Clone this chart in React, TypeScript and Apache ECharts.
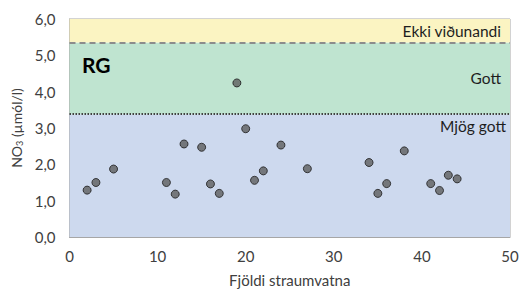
import React, { useEffect, useRef } from "react";
import * as echarts from "echarts";

const xValues = [2, 3, 5, 11, 12, 13, 15, 16, 17, 19, 20, 21, 22, 24, 27, 34, 35, 36, 38, 41, 42, 43, 44];
const yValues = [1.29, 1.5, 1.87, 1.5, 1.18, 2.56, 2.47, 1.46, 1.2, 4.24, 2.98, 1.56, 1.82, 2.53, 1.88, 2.05, 1.2, 1.47, 2.37, 1.47, 1.28, 1.7, 1.6];
const bandNames = ["Mjög gott", "Gott", "Ekki viðunandi"];
const bandLimits = [0, 3.38, 5.35, 6];
const bandColors = ["#CDD9EE", "#BFE4D0", "#FBF4C2"];

const FONT = "Lato, 'Open Sans', sans-serif";

export default function App() {
  const ref = useRef<HTMLDivElement>(null);
  useEffect(() => {
    document.body.style.margin = "0";
    const chart = echarts.init(ref.current!, null, { renderer: "svg" });
    const data = xValues.map((x, i) => [x, yValues[i]]);
    const labelPos = ["insideTopRight", "insideRight", "insideRight"];
    chart.setOption({
      animation: false,
      textStyle: { fontFamily: FONT },
      grid: {
        left: 69.5,
        right: 15,
        top: 19,
        bottom: 56,
        outerBoundsMode: "none",
        containLabel: false,
        show: true,
        borderColor: "#A6A6A6",
        borderWidth: 1,
        backgroundColor: "transparent",
      },
      xAxis: {
        type: "value",
        min: 0,
        max: 50,
        interval: 10,
        axisLine: { show: true, lineStyle: { color: "#A6A6A6" } },
        axisTick: { show: false },
        splitLine: { show: false },
        axisLabel: { color: "#404040", fontSize: 15, margin: 11, fontFamily: FONT },
        name: "Fjöldi straumvatna",
        nameLocation: "middle",
        nameGap: 35,
        nameTextStyle: { color: "#404040", fontSize: 15, fontFamily: FONT },
      },
      yAxis: {
        type: "value",
        min: 0,
        max: 6,
        interval: 1,
        axisLine: { show: true, lineStyle: { color: "#A6A6A6" } },
        axisTick: { show: false },
        splitLine: { show: false },
        axisLabel: {
          color: "#404040",
          fontSize: 15,
          margin: 14,
          fontFamily: FONT,
          formatter: (v: number) => v.toFixed(1).replace(".", ","),
        },
        name: "NO{sub|3} (µmól/l)",
        nameLocation: "middle",
        nameGap: 43,
        nameTextStyle: {
          color: "#404040",
          fontSize: 14,
          fontFamily: FONT,
          rich: { sub: { fontSize: 9, verticalAlign: "bottom", padding: [6, 0, 0, 0], color: "#404040" } },
        },
      },
      graphic: [
        {
          type: "text",
          left: 82,
          top: 54,
          z: 100,
          style: { text: "RG", fontSize: 21, fontWeight: "bold", fontFamily: FONT, fill: "#000" },
        },
      ],
      series: [
        {
          type: "scatter",
          data,
          symbol: "circle",
          symbolSize: 8,
          itemStyle: { color: "#5E5E5E", borderColor: "#1A1A1A", borderWidth: 1 },
          z: 5,
          markArea: {
            silent: true,
            data: bandNames.map((name, i) => [
              {
                yAxis: bandLimits[i],
                name,
                itemStyle: { color: bandColors[i] },
                label: {
                  show: true,
                  position: labelPos[i],
                  color: "#1E1E1E",
                  fontSize: 15.5,
                  fontFamily: FONT,
                  distance: i === 0 ? 4 : 9,
                },
              },
              { yAxis: bandLimits[i + 1] },
            ]),
          },
          markLine: {
            silent: true,
            symbol: "none",
            label: { show: false },
            data: [
              { yAxis: bandLimits[2], lineStyle: { type: [6, 4], color: "#8C8C8C", width: 2 } },
              { yAxis: bandLimits[1], lineStyle: { type: [1.5, 1.5], color: "#404040", width: 1.8 } },
            ],
          },
        },
      ],
    });
    return () => chart.dispose();
  }, []);
  return <div ref={ref} style={{ width: 525, height: 293 }} />;
}
